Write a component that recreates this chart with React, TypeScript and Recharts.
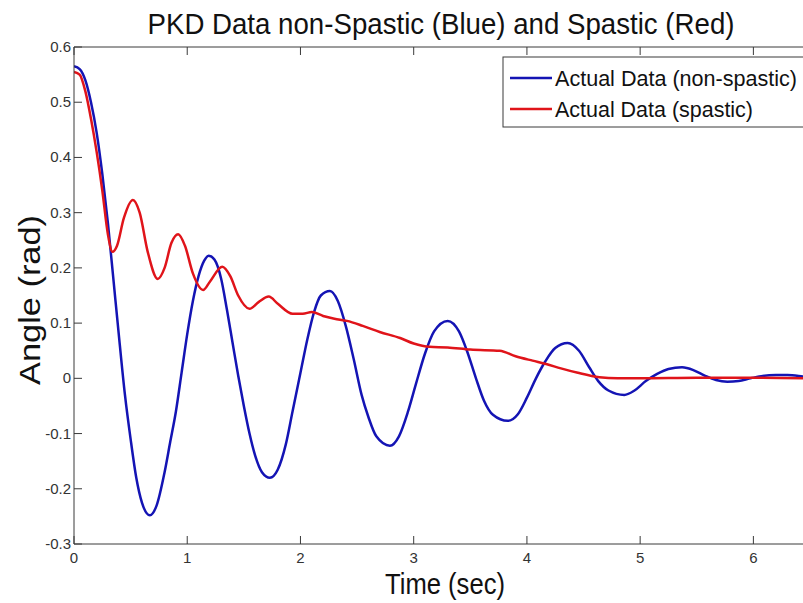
import { LineChart, Line, XAxis, YAxis } from 'recharts'

// time (s) and angle (rad) samples for the non-spastic trace
const blueTime = [
  0, 0.05, 0.1, 0.15, 0.2, 0.25, 0.3, 0.35, 0.4, 0.45, 0.5, 0.55, 0.6, 0.67, 0.73, 0.8, 0.85, 0.9, 0.95,
  1.0, 1.05, 1.1, 1.15, 1.19, 1.24, 1.3, 1.35, 1.4, 1.45, 1.5, 1.55, 1.6, 1.66, 1.73, 1.8, 1.87, 1.93,
  2.0, 2.06, 2.12, 2.18, 2.26, 2.33, 2.4, 2.47, 2.54, 2.6, 2.67, 2.79, 2.87, 2.95, 3.02, 3.1, 3.18, 3.3,
  3.4, 3.47, 3.55, 3.62, 3.7, 3.83, 3.92, 4.0, 4.08, 4.16, 4.25, 4.36, 4.46, 4.55, 4.63, 4.72, 4.86,
  4.95, 5.05, 5.15, 5.25, 5.37, 5.47, 5.57, 5.67, 5.77, 5.87, 5.97, 6.07, 6.2, 6.3, 6.45, 6.5,
]
const blueAngle = [
  0.565, 0.56, 0.54, 0.5, 0.445, 0.37, 0.28, 0.175, 0.07, -0.03, -0.11, -0.18, -0.225, -0.248, -0.23, -0.17, -0.115, -0.06, 0.01,
  0.08, 0.14, 0.185, 0.213, 0.222, 0.215, 0.18, 0.125, 0.065, 0.005, -0.05, -0.1, -0.14, -0.17, -0.18, -0.165, -0.12, -0.06,
  0.01, 0.07, 0.12, 0.15, 0.158, 0.14, 0.095, 0.035, -0.03, -0.07, -0.105, -0.122, -0.105, -0.06, -0.01, 0.045, 0.085, 0.104,
  0.085, 0.05, 0.0, -0.04, -0.066, -0.077, -0.065, -0.035, 0.0, 0.03, 0.055, 0.064, 0.05, 0.02, -0.005, -0.022, -0.03,
  -0.022, -0.005, 0.008, 0.017, 0.02, 0.015, 0.005, -0.003, -0.006, -0.005, 0.0, 0.004, 0.006, 0.006, 0.003, 0.002,
]

// time (s) and angle (rad) samples for the spastic trace
const redTime = [
  0, 0.05, 0.1, 0.15, 0.2, 0.25, 0.3, 0.34, 0.38, 0.44, 0.52, 0.58, 0.65, 0.74, 0.8, 0.86, 0.92, 0.98,
  1.05, 1.14, 1.2, 1.31, 1.38, 1.45, 1.55, 1.63, 1.72, 1.8, 1.93, 2.02, 2.1, 2.2, 2.3, 2.41, 2.55, 2.7,
  2.88, 3.0, 3.14, 3.3, 3.5, 3.76, 3.9, 4.05, 4.17, 4.3, 4.45, 4.64, 4.8, 5.0, 5.5, 6.0, 6.5,
]
const redAngle = [
  0.555, 0.55, 0.52, 0.47, 0.41, 0.34, 0.26, 0.229, 0.24, 0.29, 0.323, 0.3, 0.23, 0.18, 0.2, 0.245, 0.261, 0.24,
  0.19, 0.16, 0.175, 0.202, 0.185, 0.15, 0.126, 0.138, 0.148, 0.135, 0.117, 0.117, 0.12, 0.113, 0.108, 0.104, 0.095, 0.084,
  0.073, 0.063, 0.057, 0.056, 0.052, 0.05, 0.04, 0.032, 0.026, 0.018, 0.01, 0.002, 0.0, 0.0, 0.001, 0.001, 0.0,
]

const timeTicks = [0, 1, 2, 3, 4, 5, 6]
const angleTicks = [-0.3, -0.2, -0.1, 0, 0.1, 0.2, 0.3, 0.4, 0.5, 0.6]

const seriesNames = ['Actual Data (non-spastic)', 'Actual Data (spastic)']
const BLUE = '#1414b4'
const RED = '#e0141a'
const AXIS = '#3a3a3a'
const FONT = '"Liberation Sans", Arial, sans-serif'

const blueData = blueTime.map((t, i) => ({ t, v: blueAngle[i] }))
const redData = redTime.map((t, i) => ({ t, v: redAngle[i] }))

const fmtAngle = (v: number) => (v === 0 ? '0' : v.toFixed(1))

// MATLAB-style ticks: marks point into the axes box
const BottomTick = ({ x, y, payload }: any) => (
  <g>
    <line x1={x} x2={x} y1={y} y2={y - 8} stroke={AXIS} />
    <text x={x} y={y + 19} textAnchor="middle" fontSize={15} fill="#333" fontFamily={FONT}>
      {payload.value}
    </text>
  </g>
)
const TopTick = ({ x, y }: any) => <line x1={x} x2={x} y1={y} y2={y + 8} stroke={AXIS} />
const LeftTick = ({ x, y, payload }: any) => (
  <g>
    <line x1={x} x2={x + 8} y1={y} y2={y} stroke={AXIS} />
    <text x={x - 3} y={y + 5} textAnchor="end" fontSize={15} fill="#333" fontFamily={FONT}>
      {fmtAngle(payload.value)}
    </text>
  </g>
)
const RightTick = ({ x, y }: any) => <line x1={x} x2={x - 8} y1={y} y2={y} stroke={AXIS} />

// legend box in the top-right corner of the axes
const legendWidths = [242, 198]
const LegendBox = () => (
  <g fontFamily={FONT} fontSize={21.5} fill="#111">
    <rect x={503} y={57} width={320} height={70} fill="#fff" stroke={AXIS} strokeWidth={1} />
    {seriesNames.map((name, i) => (
      <g key={name}>
        <line x1={510} x2={552} y1={78 + i * 31} y2={78 + i * 31} stroke={i === 0 ? BLUE : RED} strokeWidth={2.5} />
        <text x={555} y={86 + i * 31} textLength={legendWidths[i]} lengthAdjust="spacingAndGlyphs">
          {name}
        </text>
      </g>
    ))}
  </g>
)

const App = () => (
  <div style={{ position: 'absolute', left: 0, top: 0, width: 803, height: 603, overflow: 'hidden', background: '#fff' }}>
    <LineChart width={830} height={603} margin={{ top: 37, right: 10, bottom: 29, left: 34 }}>
      <XAxis
        type="number"
        dataKey="t"
        domain={[0, 6.5]}
        ticks={timeTicks}
        allowDataOverflow
        height={30}
        tickSize={0}
        tickMargin={0}
        tickLine={false}
        stroke={AXIS}
        tick={<BottomTick />}
      />
      <XAxis
        xAxisId="top"
        orientation="top"
        type="number"
        dataKey="t"
        domain={[0, 6.5]}
        ticks={timeTicks}
        allowDataOverflow
        height={10}
        tickSize={0}
        tickMargin={0}
        tickLine={false}
        stroke={AXIS}
        tick={<TopTick />}
      />
      <YAxis
        type="number"
        domain={[-0.3, 0.6]}
        ticks={angleTicks}
        allowDataOverflow
        width={40}
        tickSize={0}
        tickMargin={0}
        tickLine={false}
        stroke={AXIS}
        tick={<LeftTick />}
      />
      <YAxis
        yAxisId="right"
        orientation="right"
        type="number"
        domain={[-0.3, 0.6]}
        ticks={angleTicks}
        width={10}
        tickSize={0}
        tickMargin={0}
        tickLine={false}
        stroke={AXIS}
        tick={<RightTick />}
      />
      <Line data={blueData} dataKey="v" name={seriesNames[0]} type="monotone" stroke={BLUE} strokeWidth={2.5} dot={false} isAnimationActive={false} />
      <Line data={redData} dataKey="v" name={seriesNames[1]} type="monotone" stroke={RED} strokeWidth={2.5} dot={false} isAnimationActive={false} />
    </LineChart>
    <svg width={803} height={603} style={{ position: 'absolute', left: 0, top: 0, pointerEvents: 'none' }} fontFamily={FONT} fill="#111">
      <LegendBox />
      <text x={441} y={34} textAnchor="middle" fontSize={29} textLength={587} lengthAdjust="spacingAndGlyphs">
        PKD Data non-Spastic (Blue) and Spastic (Red)
      </text>
      <text x={445} y={594} textAnchor="middle" fontSize={29} textLength={120} lengthAdjust="spacingAndGlyphs">
        Time (sec)
      </text>
      <text x={40} y={300} textAnchor="middle" fontSize={30} transform="rotate(-90 40 300)" textLength={170} lengthAdjust="spacingAndGlyphs">
        Angle (rad)
      </text>
    </svg>
  </div>
)

export default App
